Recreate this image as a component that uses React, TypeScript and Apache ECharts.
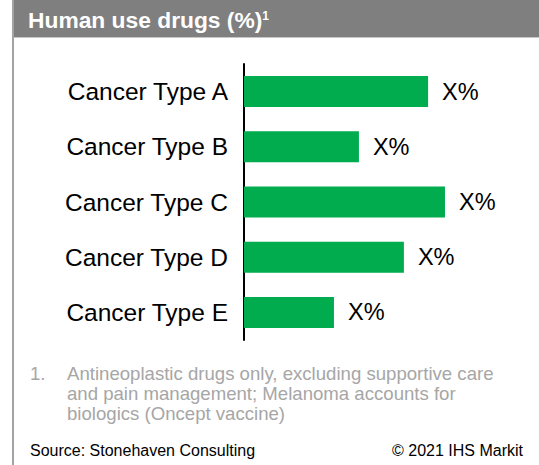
import React, { useEffect, useRef } from "react";
import * as echarts from "echarts";

const categories = ["Cancer Type A", "Cancer Type B", "Cancer Type C", "Cancer Type D", "Cancer Type E"];
const values = [70.8, 44.2, 77.3, 61.5, 34.6];
const valueLabels = ["X%", "X%", "X%", "X%", "X%"];
const titleText = "Human use drugs (%)";
const footnoteNumber = "1.";
const footnoteLines = [
  "Antineoplastic drugs only, excluding supportive care",
  "and pain management; Melanoma accounts for",
  "biologics (Oncept vaccine)",
];
const sourceText = "Source: Stonehaven Consulting";
const copyrightText = "© 2021 IHS Markit";

const FONT = "'Liberation Sans', Arial, sans-serif";

export default function App() {
  const ref = useRef<HTMLDivElement>(null);
  useEffect(() => {
    if (!ref.current) return;
    const chart = echarts.init(ref.current, undefined, { renderer: "svg" });
    chart.setOption({
      animation: false,
      backgroundColor: "#ffffff",
      textStyle: { fontFamily: FONT },
      grid: { left: 244, top: 64, height: 276, width: 260, containLabel: false },
      xAxis: {
        type: "value",
        min: 0,
        max: 100,
        show: false,
      },
      yAxis: {
        type: "category",
        data: categories,
        inverse: true,
        axisLine: { show: true, lineStyle: { color: "#000000", width: 2 } },
        axisTick: { show: false },
        axisLabel: { color: "#000000", fontSize: 24.5, margin: 16, fontFamily: FONT },
        splitLine: { show: false },
      },
      series: [
        {
          type: "bar",
          data: values,
          barWidth: 31,
          itemStyle: { color: "#00ac4e" },
          label: {
            show: true,
            position: "right",
            distance: 14,
            color: "#000000",
            fontSize: 23.5,
            fontFamily: FONT,
            formatter: (p: any) => valueLabels[p.dataIndex],
          },
        },
      ],
      graphic: [
        {
          type: "rect",
          shape: { x: 13, y: 0, width: 526, height: 37 },
          style: { fill: "#7f7f7f" },
          silent: true,
        },
        {
          type: "rect",
          shape: { x: 13, y: 37, width: 526, height: 1 },
          style: { fill: "#c8c8c8" },
          silent: true,
        },
        {
          type: "rect",
          shape: { x: 12, y: 0, width: 2, height: 465 },
          style: { fill: "#a3a3a3" },
          silent: true,
        },
        {
          type: "text",
          x: 28,
          y: 19.5,
          style: {
            text: "{a|" + titleText + "}{s|1}",
            fontFamily: FONT,
            verticalAlign: "middle",
            rich: {
              a: { fontSize: 22.8, fontWeight: "bold", fill: "#ffffff", fontFamily: FONT, lineHeight: 24 },
              s: { fontSize: 12, fontWeight: "bold", fill: "#ffffff", fontFamily: FONT, verticalAlign: "top", lineHeight: 24, padding: [2, 0, 0, 0] },
            },
          },
        },
        {
          type: "text",
          x: 30,
          y: 363,
          style: {
            text: footnoteNumber,
            fontSize: 18.6,
            fontFamily: FONT,
            fill: "#a6a6a6",
            lineHeight: 20,
          },
        },
        {
          type: "text",
          x: 67,
          y: 363,
          style: {
            text: footnoteLines.join("\n"),
            fontSize: 18.6,
            fontFamily: FONT,
            fill: "#a6a6a6",
            lineHeight: 20,
          },
        },
        {
          type: "text",
          x: 30,
          y: 450,
          style: {
            text: sourceText,
            fontSize: 16,
            fontFamily: FONT,
            fill: "#000000",
            verticalAlign: "middle",
          },
        },
        {
          type: "text",
          x: 523,
          y: 450,
          style: {
            text: copyrightText,
            fontSize: 16,
            fontFamily: FONT,
            fill: "#000000",
            align: "right",
            verticalAlign: "middle",
          },
        },
      ],
    });
    return () => chart.dispose();
  }, []);
  return (
    <div
      ref={ref}
      style={{ position: "absolute", left: 0, top: 0, width: 539, height: 465 }}
    />
  );
}
